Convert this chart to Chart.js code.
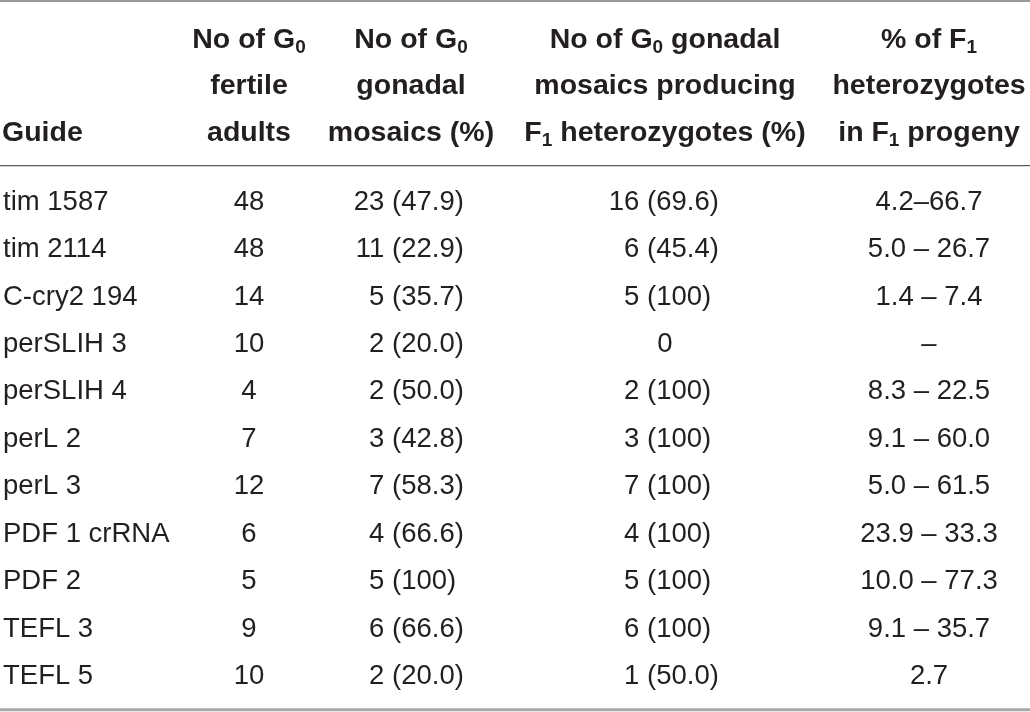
<!DOCTYPE html>
<html lang="en">

<head>
    <meta charset="UTF-8">
    <title>G0 gonadal mosaics table</title>
    <script src="https://cdn.jsdelivr.net/npm/chart.js"></script>
    <style>
        body {
            margin: 0;
            background: #fff;
        }

        .chart-container {
            position: relative;
            width: 1030px;
            height: 712px;
        }
    </style>
</head>

<body>
    <div class="chart-container">
        <canvas id="myChart"></canvas>
    </div>

    <script>
        // table data
        const guides = ['tim 1587', 'tim 2114', 'C-cry2 194', 'perSLIH 3', 'perSLIH 4', 'perL 2',
            'perL 3', 'PDF 1 crRNA', 'PDF 2', 'TEFL 3', 'TEFL 5'];
        const fertileAdults = ['48', '48', '14', '10', '4', '7', '12', '6', '5', '9', '10'];
        const gonadalMosaics = ['23 (47.9)', '11 (22.9)', '5 (35.7)', '2 (20.0)', '2 (50.0)', '3 (42.8)',
            '7 (58.3)', '4 (66.6)', '5 (100)', '6 (66.6)', '2 (20.0)'];
        const mosaicsProducing = ['16 (69.6)', '6 (45.4)', '5 (100)', '0', '2 (100)', '3 (100)',
            '7 (100)', '4 (100)', '5 (100)', '6 (100)', '1 (50.0)'];
        const heteroRange = ['4.2–66.7', '5.0 – 26.7', '1.4 – 7.4', '–', '8.3 – 22.5', '9.1 – 60.0',
            '5.0 – 61.5', '23.9 – 33.3', '10.0 – 77.3', '9.1 – 35.7', '2.7'];

        // header lines (bottom aligned), "_x" = subscript
        const headers = [
            ['', '', 'Guide'],
            ['No of G_0', 'fertile', 'adults'],
            ['No of G_0', 'gonadal', 'mosaics (%)'],
            ['No of G_0 gonadal', 'mosaics producing', 'F_1 heterozygotes (%)'],
            ['% of F_1', 'heterozygotes', 'in F_1 progeny']
        ];
        const columns = [guides, fertileAdults, gonadalMosaics, mosaicsProducing, heteroRange];

        // layout of the columns on the x scale (0..1030)
        const colLayout = [
            { x: 3, head: 2, align: 'left' },
            { x: 249, head: 249, align: 'center' },
            { x: 392, head: 411, align: 'paren' },
            { x: 647, head: 665, align: 'paren' },
            { x: 929, head: 929, align: 'center' }
        ];

        const FONT = "'Liberation Sans', Arial, Helvetica, sans-serif";
        const TEXT = '#231f20';

        function parseRich(str) {
            const parts = [];
            const re = /_(\w)/g;
            let last = 0, m;
            while ((m = re.exec(str)) !== null) {
                if (m.index > last) parts.push({ t: str.slice(last, m.index), sub: false });
                parts.push({ t: m[1], sub: true });
                last = m.index + m[0].length;
            }
            if (last < str.length) parts.push({ t: str.slice(last), sub: false });
            return parts;
        }

        function drawRich(ctx, str, x, baseline, size, weight, align) {
            const parts = parseRich(str);
            const subSize = Math.round(size * 0.68);
            let w = 0;
            parts.forEach(p => {
                ctx.font = weight + ' ' + (p.sub ? subSize : size) + 'px ' + FONT;
                p.w = ctx.measureText(p.t).width;
                w += p.w;
            });
            let cx = align === 'left' ? x : x - w / 2;
            ctx.textAlign = 'left';
            parts.forEach(p => {
                ctx.font = weight + ' ' + (p.sub ? subSize : size) + 'px ' + FONT;
                ctx.fillText(p.t, cx, p.sub ? baseline + size * 0.2 : baseline);
                cx += p.w;
            });
        }

        const tablePlugin = {
            id: 'tableText',
            afterDatasetsDraw(chart) {
                const { ctx, chartArea, scales: { x, y } } = chart;
                const dataSize = 27.5;
                const headSize = 28.5;
                const step = y.getPixelForValue(1) - y.getPixelForValue(0);
                const firstRow = y.getPixelForValue(0);
                const lastRow = y.getPixelForValue(guides.length - 1);

                ctx.save();
                ctx.fillStyle = TEXT;
                ctx.textBaseline = 'alphabetic';

                // cells, placed at the points of each dataset
                chart.data.datasets.forEach((ds, d) => {
                    const meta = chart.getDatasetMeta(d);
                    const lay = colLayout[d];
                    ctx.font = '400 ' + dataSize + 'px ' + FONT;
                    const space = ctx.measureText(' ').width;
                    meta.data.forEach((pt, i) => {
                        const txt = ds.cells[i];
                        const base = pt.y + dataSize * 0.36;
                        if (lay.align === 'paren' && txt.indexOf(' (') > 0) {
                            const k = txt.indexOf(' (');
                            ctx.textAlign = 'right';
                            ctx.fillText(txt.slice(0, k), pt.x - space, base);
                            ctx.textAlign = 'left';
                            ctx.fillText(txt.slice(k + 1), pt.x, base);
                        } else if (lay.align === 'paren') {
                            ctx.textAlign = 'center';
                            ctx.fillText(txt, x.getPixelForValue(lay.head), base);
                        } else {
                            ctx.textAlign = lay.align;
                            ctx.fillText(txt, pt.x, base);
                        }
                    });
                });

                // header, three lines above the first row
                const lineOffsets = [3.42, 2.44, 1.46];
                headers.forEach((lines, c) => {
                    const lay = colLayout[c];
                    const hx = x.getPixelForValue(lay.head);
                    lines.forEach((ln, j) => {
                        if (!ln) return;
                        const base = firstRow - lineOffsets[j] * step + headSize * 0.36;
                        drawRich(ctx, ln, hx, base, headSize, '700', lay.align === 'left' ? 'left' : 'center');
                    });
                });

                // rules
                const rule = (yy, w, col) => {
                    ctx.strokeStyle = col;
                    ctx.lineWidth = w;
                    ctx.beginPath();
                    ctx.moveTo(chartArea.left, yy);
                    ctx.lineTo(chartArea.right, yy);
                    ctx.stroke();
                };
                rule(firstRow - 4.19 * step, 2, '#9a9a9a');
                rule(firstRow - 0.72 * step, 1.2, '#5a5a5a');
                rule(lastRow + 0.75 * step, 3, '#a8a8a8');
                ctx.restore();
            }
        };

        const ctx = document.getElementById('myChart').getContext('2d');
        const chart = new Chart(ctx, {
            type: 'scatter',
            data: {
                datasets: columns.map((cells, c) => ({
                    label: 'col' + c,
                    cells: cells,
                    data: guides.map(g => ({ x: colLayout[c].x, y: g })),
                    pointRadius: 0,
                    showLine: false
                }))
            },
            options: {
                responsive: true,
                maintainAspectRatio: false,
                animation: false,
                layout: {
                    padding: { top: 176, bottom: 14, left: 0, right: 0 }
                },
                scales: {
                    x: {
                        type: 'linear',
                        min: 0,
                        max: 1030,
                        display: false
                    },
                    y: {
                        type: 'category',
                        labels: guides,
                        offset: true,
                        display: false
                    }
                },
                plugins: {
                    legend: { display: false },
                    tooltip: { enabled: false }
                }
            },
            plugins: [tablePlugin]
        });
    </script>
</body>

</html>
